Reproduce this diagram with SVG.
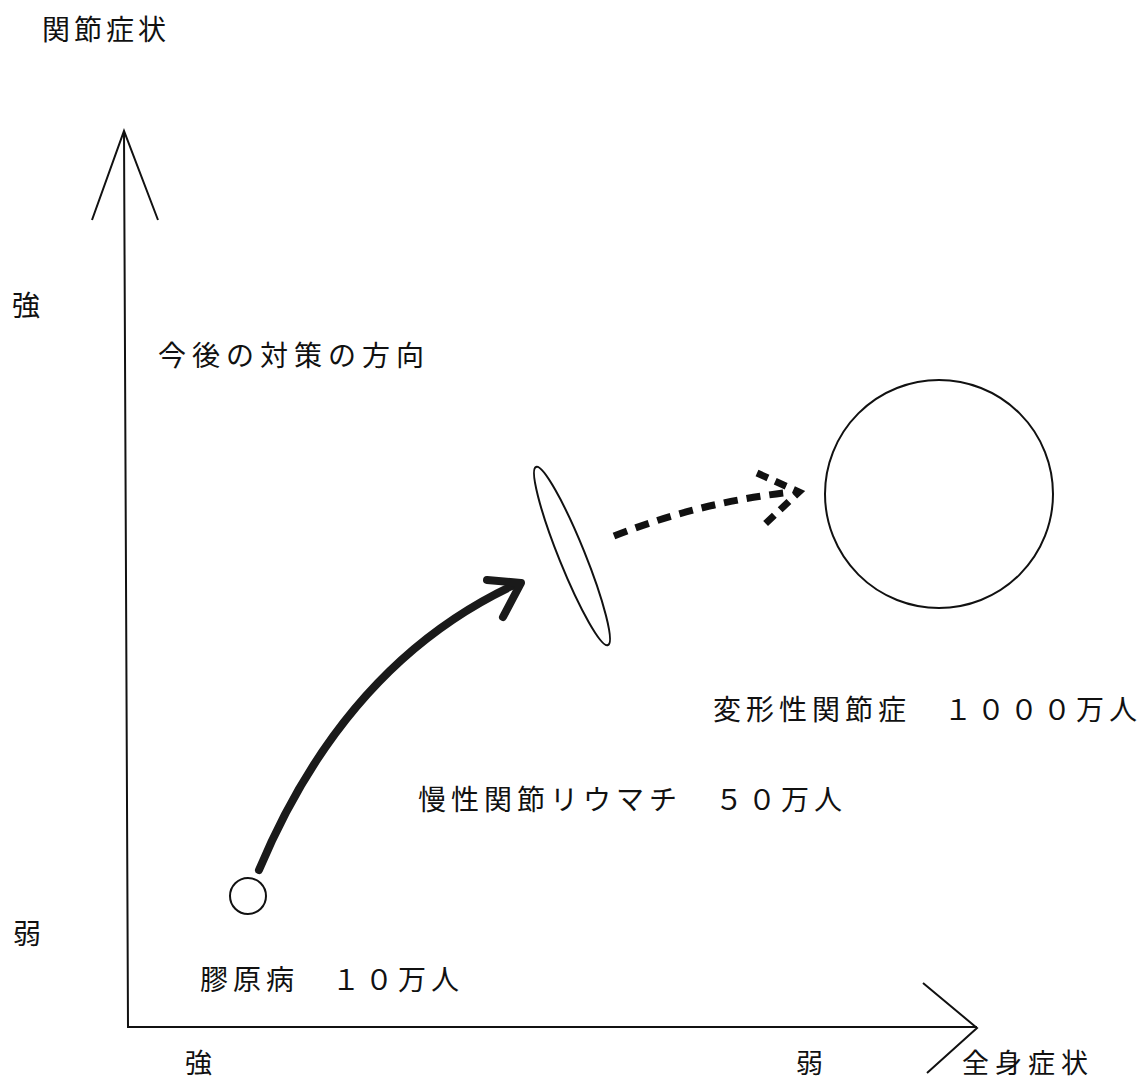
<svg xmlns="http://www.w3.org/2000/svg" width="1148" height="1083" viewBox="0 0 1148 1083">
<style>
text{font-family:"Noto Sans CJK JP","Noto Sans CJK SC",sans-serif;font-size:28px;fill:#111;letter-spacing:5px}
.ax{stroke:#111;stroke-width:2;fill:none}
.nd{stroke:#111;stroke-width:2;fill:none}
.bt{font-size:27px}
</style>
<rect width="1148" height="1083" fill="#fff"/>
<g id="axes">
<path class="ax" d="M124,131 L128,1027 L977,1027"/>
<path class="ax" d="M92,220 L124,131 L158,220"/>
<path class="ax" d="M923,983 L977,1028 L927,1073"/>
</g>
<g id="labels">
<text x="42" y="40" style="letter-spacing:4px">関節症状</text>
<text x="12" y="316" style="letter-spacing:0">強</text>
<text x="13" y="944" style="letter-spacing:0">弱</text>
<text class="bt" x="185" y="1073" style="letter-spacing:0">強</text>
<text class="bt" x="796" y="1073" style="letter-spacing:0">弱</text>
<text class="bt" x="962" y="1073" style="letter-spacing:6px">全身症状</text>
<text x="158" y="366" style="letter-spacing:6px">今後の対策の方向</text>
</g>
<g id="node-collagen">
<circle class="nd" cx="248" cy="896" r="18"/>
<text x="200" y="990">膠原病　１０万人</text>
</g>
<g id="node-ra">
<ellipse class="nd" cx="572" cy="556" rx="96" ry="13" transform="rotate(68 572 556)"/>
<text x="418" y="810">慢性関節リウマチ　５０万人</text>
</g>
<g id="node-oa">
<circle class="nd" cx="939" cy="494" r="114"/>
<text x="713" y="720">変形性関節症　１０００万人</text>
</g>
<g id="connectors">
<path d="M259,870 Q345,665 512,586" stroke="#1a1a1a" stroke-width="8" fill="none" stroke-linecap="round"/>
<path d="M487,580 L521,583 L503,617" stroke="#1a1a1a" stroke-width="8" fill="none" stroke-linecap="round" stroke-linejoin="round"/>
<path d="M614,536 Q700,502 792,492" stroke="#111" stroke-width="7" fill="none" stroke-dasharray="14,9"/>
<path d="M757,473 L799,492 L764,525" stroke="#111" stroke-width="7" fill="none" stroke-dasharray="12,8"/>
</g>
</svg>
